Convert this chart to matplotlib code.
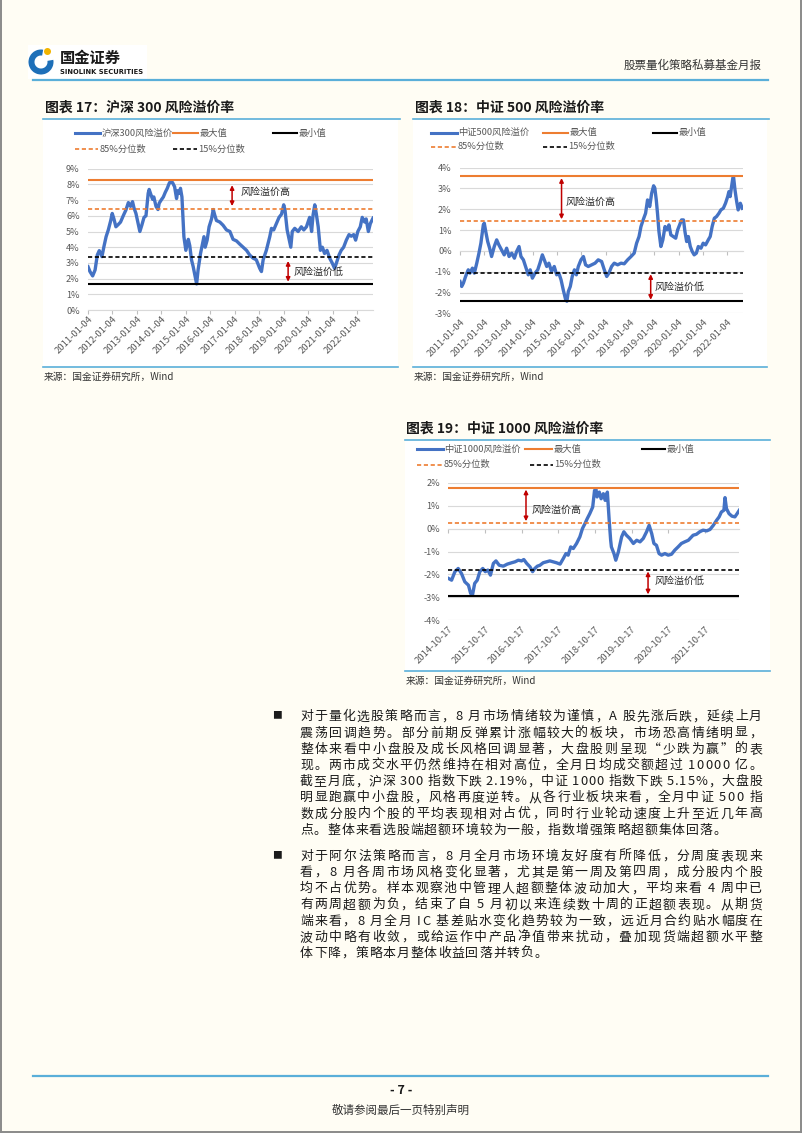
import matplotlib
matplotlib.use("Agg")
import matplotlib.pyplot as plt
from matplotlib.lines import Line2D
from matplotlib.patches import Rectangle, Wedge, Circle
from matplotlib.font_manager import FontProperties

plt.rcParams['font.family'] = ['Noto Sans CJK SC', 'DejaVu Sans']

W, H = 802, 1133
PAGE = '#FFFDF4'
BLUE = '#4472C4'
ORANGE = '#ED7D31'
RED = '#C00000'
GRID = '#D9D9D9'
LABEL = '#595959'
RULE = '#5AAFD9'

# ---- data (x = years after the first date) ----
hs300 = [
    (0.00, 2.76), (0.08, 2.45), (0.19, 2.17), (0.29, 2.55), (0.38, 3.50),
    (0.46, 3.78), (0.57, 3.40), (0.65, 4.03), (0.74, 4.67), (0.83, 5.10),
    (0.93, 5.70), (0.99, 6.15), (1.06, 5.80), (1.14, 5.30), (1.24, 5.45),
    (1.33, 5.60), (1.44, 6.00), (1.55, 6.37), (1.65, 6.84), (1.74, 6.60),
    (1.82, 6.90), (1.88, 6.50), (1.96, 6.15), (2.05, 5.50), (2.12, 5.00),
    (2.20, 5.40), (2.29, 5.90), (2.37, 6.00), (2.46, 7.43), (2.50, 7.68),
    (2.56, 7.40), (2.64, 7.05), (2.69, 7.20), (2.78, 6.60), (2.86, 6.40),
    (2.91, 6.80), (2.99, 7.00), (3.08, 7.20), (3.16, 7.50), (3.24, 7.75),
    (3.32, 8.07), (3.39, 8.24), (3.46, 8.10), (3.54, 7.85), (3.62, 7.10),
    (3.67, 7.60), (3.73, 7.43), (3.78, 7.75), (3.84, 7.20), (3.92, 4.67),
    (4.00, 3.80), (4.10, 4.50), (4.16, 4.10), (4.23, 3.20), (4.30, 2.76),
    (4.37, 2.20), (4.44, 1.66), (4.50, 2.55), (4.60, 3.60), (4.68, 4.20),
    (4.74, 4.67), (4.79, 4.00), (4.87, 4.45), (4.95, 5.30), (5.05, 5.80),
    (5.12, 6.40), (5.18, 6.05), (5.25, 5.70), (5.39, 5.60), (5.52, 5.40),
    (5.66, 5.10), (5.80, 5.00), (5.93, 4.50), (6.07, 4.40), (6.20, 4.20),
    (6.34, 4.00), (6.48, 3.80), (6.61, 3.50), (6.75, 3.30), (6.88, 3.20),
    (7.02, 2.65), (7.09, 2.45), (7.16, 3.20), (7.29, 3.80), (7.43, 4.67),
    (7.50, 5.20), (7.59, 5.10), (7.70, 5.50), (7.81, 5.90), (7.91, 6.10),
    (8.00, 6.70), (8.05, 6.40), (8.14, 5.10), (8.22, 4.50), (8.29, 4.00),
    (8.35, 5.00), (8.45, 5.20), (8.59, 5.00), (8.72, 5.30), (8.82, 5.10),
    (8.93, 5.30), (9.06, 5.90), (9.14, 5.00), (9.20, 6.05), (9.27, 6.70),
    (9.33, 6.15), (9.41, 5.30), (9.50, 3.80), (9.58, 4.00), (9.67, 3.60),
    (9.77, 3.80), (9.88, 3.30), (9.99, 2.97), (10.08, 2.65), (10.15, 2.97),
    (10.26, 3.50), (10.35, 3.80), (10.45, 4.00), (10.56, 4.45), (10.67, 4.80),
    (10.76, 4.70), (10.86, 4.80), (10.94, 4.45), (11.03, 5.00), (11.13, 5.30),
    (11.21, 5.90), (11.31, 5.60), (11.37, 5.80), (11.46, 5.00), (11.54, 5.50),
    (11.65, 5.85),
]
hs300_levels = [8.28, 6.43, 3.40, 1.66]   # max, 85%, 15%, min

csi500 = [
    (0.00, -1.47), (0.07, -1.71), (0.14, -1.55), (0.23, -1.23), (0.34, -0.91),
    (0.41, -1.07), (0.51, -0.83), (0.59, -1.07), (0.69, -0.59), (0.78, -0.11),
    (0.86, 0.37), (0.96, 1.25), (1.00, 1.33), (1.06, 0.93), (1.14, 0.45),
    (1.22, 0.13), (1.30, -0.27), (1.41, 0.21), (1.51, 0.53), (1.60, 0.29),
    (1.71, 0.05), (1.82, -0.19), (1.92, 0.13), (2.02, -0.27), (2.13, -0.11),
    (2.24, -0.35), (2.33, -0.03), (2.43, 0.21), (2.51, -0.27), (2.61, -0.43),
    (2.70, -0.75), (2.81, -1.15), (2.89, -0.91), (2.98, -1.31), (3.09, -1.07),
    (3.20, -0.91), (3.29, -0.59), (3.39, -0.19), (3.47, -0.43), (3.57, -0.75),
    (3.66, -0.59), (3.77, -0.99), (3.88, -0.75), (3.98, -1.15), (4.07, -1.07),
    (4.16, -1.39), (4.25, -1.87), (4.35, -2.35), (4.40, -2.42), (4.46, -1.95),
    (4.54, -1.71), (4.62, -1.23), (4.71, -0.91), (4.79, -1.15), (4.87, -0.75),
    (4.98, -0.43), (5.08, -0.27), (5.17, -0.67), (5.28, -0.75), (5.42, -0.67),
    (5.56, -0.59), (5.69, -0.43), (5.83, -0.51), (5.94, -0.91), (6.04, -1.23),
    (6.13, -1.07), (6.24, -0.75), (6.35, -0.59), (6.49, -0.67), (6.63, -0.59),
    (6.76, -0.62), (6.90, -0.43), (7.04, -0.27), (7.17, -0.11), (7.27, 0.37),
    (7.37, 0.69), (7.45, 1.17), (7.54, 1.49), (7.64, 1.81), (7.72, 2.45),
    (7.81, 2.13), (7.89, 2.77), (7.97, 3.13), (8.02, 3.02), (8.08, 2.45),
    (8.13, 1.81), (8.19, 0.93), (8.27, 0.21), (8.35, 0.53), (8.44, 1.17),
    (8.52, 1.01), (8.60, 1.25), (8.68, 0.77), (8.78, 0.69), (8.88, 0.61),
    (8.96, 1.01), (9.04, 1.25), (9.12, 1.49), (9.20, 1.49), (9.26, 0.93),
    (9.33, 0.45), (9.40, 0.69), (9.48, 0.21), (9.56, -0.03), (9.64, -0.19),
    (9.73, -0.11), (9.81, 0.21), (9.92, 0.13), (10.01, 0.37), (10.11, 0.29),
    (10.22, 0.53), (10.30, 0.69), (10.38, 1.17), (10.47, 1.57), (10.56, 1.65),
    (10.66, 1.81), (10.74, 1.97), (10.84, 2.05), (10.93, 2.29), (11.02, 2.61),
    (11.07, 2.85), (11.12, 2.61), (11.18, 3.09), (11.23, 3.49), (11.26, 3.57),
    (11.32, 2.93), (11.39, 2.37), (11.45, 1.97), (11.54, 2.29), (11.62, 2.05),
]
csi500_levels = [3.60, 1.44, -1.05, -2.42]

csi1000 = [
    (0.00, -2.17), (0.09, -2.25), (0.18, -1.88), (0.27, -1.74), (0.36, -1.96),
    (0.45, -2.32), (0.55, -2.47), (0.61, -2.83), (0.66, -2.90), (0.72, -2.39),
    (0.79, -2.25), (0.86, -1.88), (0.94, -1.74), (1.01, -1.88), (1.08, -1.81),
    (1.15, -2.03), (1.23, -1.52), (1.30, -1.41), (1.39, -1.60), (1.50, -1.64),
    (1.61, -1.55), (1.73, -1.49), (1.82, -1.45), (1.91, -1.38), (2.00, -1.41),
    (2.06, -1.35), (2.14, -1.52), (2.23, -1.67), (2.30, -1.88), (2.36, -1.74),
    (2.43, -1.64), (2.50, -1.60), (2.59, -1.49), (2.68, -1.45), (2.77, -1.41),
    (2.86, -1.45), (2.95, -1.49), (3.05, -1.55), (3.14, -1.30), (3.21, -1.09),
    (3.27, -1.16), (3.34, -0.80), (3.41, -0.87), (3.50, -0.65), (3.59, -0.36),
    (3.66, 0.00), (3.73, 0.22), (3.79, 0.43), (3.86, 0.65), (3.94, 0.94),
    (3.99, 1.66), (4.03, 1.71), (4.06, 1.38), (4.12, 1.59), (4.17, 1.30),
    (4.23, 1.52), (4.28, 1.23), (4.34, 1.59), (4.39, 0.36), (4.43, -0.51),
    (4.45, -0.80), (4.52, -1.09), (4.57, -1.38), (4.64, -1.02), (4.68, -0.72),
    (4.73, -0.36), (4.79, -0.14), (4.86, -0.29), (4.95, -0.43), (5.05, -0.65),
    (5.14, -0.51), (5.23, -0.58), (5.32, -0.43), (5.41, -0.14), (5.48, 0.14),
    (5.55, -0.22), (5.61, -0.65), (5.68, -0.73), (5.75, -1.09), (5.82, -1.16),
    (5.91, -1.09), (6.00, -1.16), (6.09, -1.12), (6.18, -0.94), (6.27, -0.80),
    (6.36, -0.65), (6.45, -0.58), (6.55, -0.51), (6.68, -0.29), (6.77, -0.25),
    (6.86, -0.14), (6.95, -0.07), (7.05, -0.10), (7.14, -0.04), (7.23, 0.14),
    (7.32, 0.36), (7.39, 0.51), (7.45, 0.72), (7.52, 0.80), (7.55, 1.35),
    (7.59, 0.87), (7.66, 0.65), (7.74, 0.54), (7.82, 0.51), (7.88, 0.65),
    (7.94, 0.80),
]
csi1000_levels = [1.77, 0.25, -1.81, -2.93]

ticks_2011 = ["2011-01-04", "2012-01-04", "2013-01-04", "2014-01-04",
              "2015-01-04", "2016-01-04", "2017-01-04", "2018-01-04",
              "2019-01-04", "2020-01-04", "2021-01-04", "2022-01-04"]
ticks_2014 = ["2014-10-17", "2015-10-17", "2016-10-17", "2017-10-17",
              "2018-10-17", "2019-10-17", "2020-10-17", "2021-10-17"]

legend_names = ["最大值", "最小值", "85%分位数", "15%分位数"]

para1 = [
    "对于量化选股策略而言，8 月市场情绪较为谨慎，A 股先涨后跌，延续上月",
    "震荡回调趋势。部分前期反弹累计涨幅较大的板块，市场恐高情绪明显，",
    "整体来看中小盘股及成长风格回调显著，大盘股则呈现“少跌为赢”的表",
    "现。两市成交水平仍然维持在相对高位，全月日均成交额超过 10000 亿。",
    "截至月底，沪深 300 指数下跌 2.19%，中证 1000 指数下跌 5.15%，大盘股",
    "明显跑赢中小盘股，风格再度逆转。从各行业板块来看，全月中证 500 指",
    "数成分股内个股的平均表现相对占优，同时行业轮动速度上升至近几年高",
    "点。整体来看选股端超额环境较为一般，指数增强策略超额集体回落。",
]
para2 = [
    "对于阿尔法策略而言，8 月全月市场环境友好度有所降低，分周度表现来",
    "看，8 月各周市场风格变化显著，尤其是第一周及第四周，成分股内个股",
    "均不占优势。样本观察池中管理人超额整体波动加大，平均来看 4 周中已",
    "有两周超额为负，结束了自 5 月初以来连续数十周的正超额表现。从期货",
    "端来看，8 月全月 IC 基差贴水变化趋势较为一致，远近月合约贴水幅度在",
    "波动中略有收敛，或给运作中产品净值带来扰动，叠加现货端超额水平整",
    "体下降，策略本月整体收益回落并转负。",
]

# ---- page helpers (pixel coordinates, origin top-left) ----
fig = plt.figure(figsize=(W / 100, H / 100), dpi=100)
fig.patch.set_facecolor(PAGE)


def px_rect(left, top, right, bottom):
    return [left / W, 1 - bottom / H, (right - left) / W, (bottom - top) / H]


def hline(x0, x1, y, **kw):
    fig.add_artist(Line2D([x0 / W, x1 / W], [1 - y / H, 1 - y / H],
                          transform=fig.transFigure, **kw))


def vline(x, y0, y1, **kw):
    fig.add_artist(Line2D([x / W, x / W], [1 - y0 / H, 1 - y1 / H],
                          transform=fig.transFigure, **kw))


def text(x, y, s, **kw):
    return fig.text(x / W, 1 - y / H, s, **kw)


def box(x0, y0, x1, y1, color):
    fig.add_artist(Rectangle((x0 / W, 1 - y1 / H), (x1 - x0) / W,
                             (y1 - y0) / H, transform=fig.transFigure,
                             fc=color, ec='none', zorder=-1))


# page border
vline(0.7, 0, H, color='#8A8A8A', lw=1.4)
vline(W - 0.7, 0, H, color='#8A8A8A', lw=1.4)
hline(0, W, H - 0.7, color='#8A8A8A', lw=1.4)

# ---- header ----
box(28, 45, 147, 79, 'white')
fig.add_artist(Wedge((41 / 100, (H - 62) / 100), 0.125, 80, 370, width=0.06,
                     transform=fig.dpi_scale_trans, fc='#1D6FB8', ec='none'))
fig.add_artist(Circle((47.5 / 100, (H - 51.5) / 100), 0.035,
                      transform=fig.dpi_scale_trans, fc='#F2B400', ec='none'))
text(60, 58, "国金证券", fontsize=11, fontweight='bold', color='#1A1A1A',
     va='center', ha='left')
text(60, 71.5, "SINOLINK SECURITIES", fontsize=4.9, fontweight='bold',
     color='#1A1A1A', va='center', ha='left', family=['DejaVu Sans'])
text(762, 65, "股票量化策略私募基金月报", fontsize=8.3, color='#333333',
     va='center', ha='right')
hline(33, 768, 80, color=RULE, lw=1.6)

# ---- chart frames ----
box(43, 119, 398, 367, 'white')
box(413, 119, 767, 367, 'white')
box(405, 440, 770, 671, 'white')
for x0, x1, y in [(43, 400, 119), (413, 769, 119), (405, 770, 440)]:
    hline(x0, x1, y, color=RULE, lw=1.2)
for x0, x1, y in [(43, 398, 367), (413, 767, 367), (405, 770, 671)]:
    hline(x0, x1, y, color=RULE, lw=1.2)

text(45, 108, "图表 17：沪深 300 风险溢价率", fontsize=10, fontweight='bold',
     color='#1A1A1A', va='center')
text(415, 108, "图表 18：中证 500 风险溢价率", fontsize=10, fontweight='bold',
     color='#1A1A1A', va='center')
text(406, 428.5, "图表 19：中证 1000 风险溢价率", fontsize=10, fontweight='bold',
     color='#1A1A1A', va='center')
for x, y in [(44, 377), (414, 377), (406, 681)]:
    text(x, y, "来源：国金证券研究所，Wind", fontsize=7, color='#333333',
         va='center')


def legend(series_name, spots):
    # spots: sample start/end and row y for each legend entry, in pixels
    styles = [
        dict(color=BLUE, lw=2.2),
        dict(color=ORANGE, lw=1.5),
        dict(color='black', lw=1.5),
        dict(color=ORANGE, lw=1.2, ls=(0, (2.5, 1.6))),
        dict(color='black', lw=1.2, ls=(0, (2.5, 1.6))),
    ]
    names = [series_name] + legend_names
    for (x0, x1, y), st, name in zip(spots, styles, names):
        hline(x0, x1, y, **st)
        text(x1 + 1.5, y, name, fontsize=6.7, color=LABEL, va='center')


def risk_chart(rect, series, levels, ylim, xmax, tick_labels, hi, lo):
    ax = fig.add_axes(px_rect(*rect))
    ax.set_facecolor('none')
    t = [p[0] for p in series]
    v = [p[1] for p in series]
    ax.set_xlim(0, xmax)
    ax.set_ylim(*ylim)
    yt = list(range(ylim[0], ylim[1] + 1))
    ax.set_yticks(yt, [f"{k}%" for k in yt])
    ax.tick_params(axis='y', length=0, pad=6, labelsize=6.6, labelcolor=LABEL)
    ax.grid(axis='y', color=GRID, lw=0.8)
    ax.set_axisbelow(True)
    for side in ['left', 'right', 'top']:
        ax.spines[side].set_visible(False)
    ax.spines['bottom'].set_position(('data', 0))
    ax.spines['bottom'].set_color(GRID)
    ax.spines['bottom'].set_linewidth(0.8)
    ax.set_xticks(range(len(tick_labels)))
    ax.tick_params(axis='x', length=3, width=0.8, color='#BFBFBF',
                   direction='out', labelbottom=False)
    sec = ax.secondary_xaxis('bottom')
    sec.set_xticks(range(len(tick_labels)), labels=tick_labels, rotation=45,
                   ha='right', rotation_mode='anchor')
    sec.tick_params(length=0, pad=3, labelsize=6.8, labelcolor=LABEL)
    sec.spines['bottom'].set_visible(False)

    ax.plot(t, v, color=BLUE, lw=2.4, solid_joinstyle='round', zorder=3)
    vmax, p85, p15, vmin = levels
    ax.axhline(vmax, color=ORANGE, lw=1.5, zorder=4)
    ax.axhline(p85, color=ORANGE, lw=1.2, ls=(0, (2.5, 1.6)), zorder=4)
    ax.axhline(p15, color='black', lw=1.2, ls=(0, (2.5, 1.6)), zorder=4)
    ax.axhline(vmin, color='black', lw=1.5, zorder=4)

    for (xa, y0, y1, xt, yt_, label) in [hi + ("风险溢价高",), lo + ("风险溢价低",)]:
        ax.annotate('', xy=(xa, y0), xytext=(xa, y1),
                    arrowprops=dict(arrowstyle='<|-|>', color=RED, lw=1.1,
                                    mutation_scale=6, shrinkA=0, shrinkB=0),
                    zorder=5)
        ax.text(xt, yt_, label, fontsize=7.2, color='#262626', va='center',
                ha='left', zorder=5)
    return ax


legend("沪深300风险溢价", [(75, 100, 133.3), (173, 198, 133.3), (273, 297, 133.3),
                          (75, 98, 149.3), (173, 197, 149.3)])
risk_chart((88, 168.7, 373, 310), hs300, hs300_levels, (0, 9), 11.65,
           ticks_2011, (5.89, 7.95, 6.62, 6.24, 7.53),
           (8.18, 3.12, 1.80, 8.41, 2.44))

legend("中证500风险溢价", [(431, 456.5, 132.7), (543, 568, 132.7), (653, 677, 132.7),
                          (431, 456.5, 146.5), (543, 567, 146.5)])
risk_chart((460, 167.7, 743, 313.3), csi500, csi500_levels, (-3, 4), 11.65,
           ticks_2011, (4.18, 3.50, 1.52, 4.36, 2.34),
           (7.85, -1.12, -2.35, 8.02, -1.72))

legend("中证1000风险溢价", [(417, 443, 449), (525, 552, 449), (642, 665, 449),
                           (417, 442, 464.5), (529.5, 552.5, 464.5)])
risk_chart((448.3, 482.7, 739.3, 620.3), csi1000, csi1000_levels, (-4, 2), 7.94,
           ticks_2014, (2.12, 1.70, 0.32, 2.27, 0.80),
           (5.45, -1.87, -2.87, 5.63, -2.28))

# ---- body text, justified character by character ----
renderer = fig.canvas.get_renderer()
body_fp = FontProperties(family=['Noto Sans CJK SC', 'DejaVu Sans'], size=9.3)
_cache = {}


def advance(c):
    if c not in _cache:
        base = renderer.get_text_width_height_descent("口口", body_fp, ismath=False)[0]
        w = renderer.get_text_width_height_descent("口" + c + "口", body_fp, ismath=False)[0]
        _cache[c] = w - base
    return _cache[c]


def body_line(s, y, x0=300, x1=762, justify=True, track=0.9):
    adv = [advance(c) for c in s]
    gap = (x1 - x0 - sum(adv)) / (len(s) - 1) if justify else track
    x = x0
    for c, a in zip(s, adv):
        if c != ' ':
            text(x, y + 4.8, c, fontproperties=body_fp, color='#1A1A1A',
                 va='baseline', ha='left')
        x += a + gap


for start, lines in [(715.5, para1), (855, para2)]:
    text(277, start, "■", fontsize=7, color='#1A1A1A', va='center', ha='center')
    for i, s in enumerate(lines):
        body_line(s, start + 16.2 * i, justify=(i < len(lines) - 1))

# ---- footer ----
hline(33, 768, 1076, color=RULE, lw=1.6)
text(401, 1090, "- 7 -", fontsize=9, fontweight='bold', color='#1A1A1A',
     va='center', ha='center')
text(401, 1110, "敬请参阅最后一页特别声明", fontsize=8.3, color='#333333',
     va='center', ha='center')

fig.savefig("out.png", dpi=100, facecolor=PAGE)
